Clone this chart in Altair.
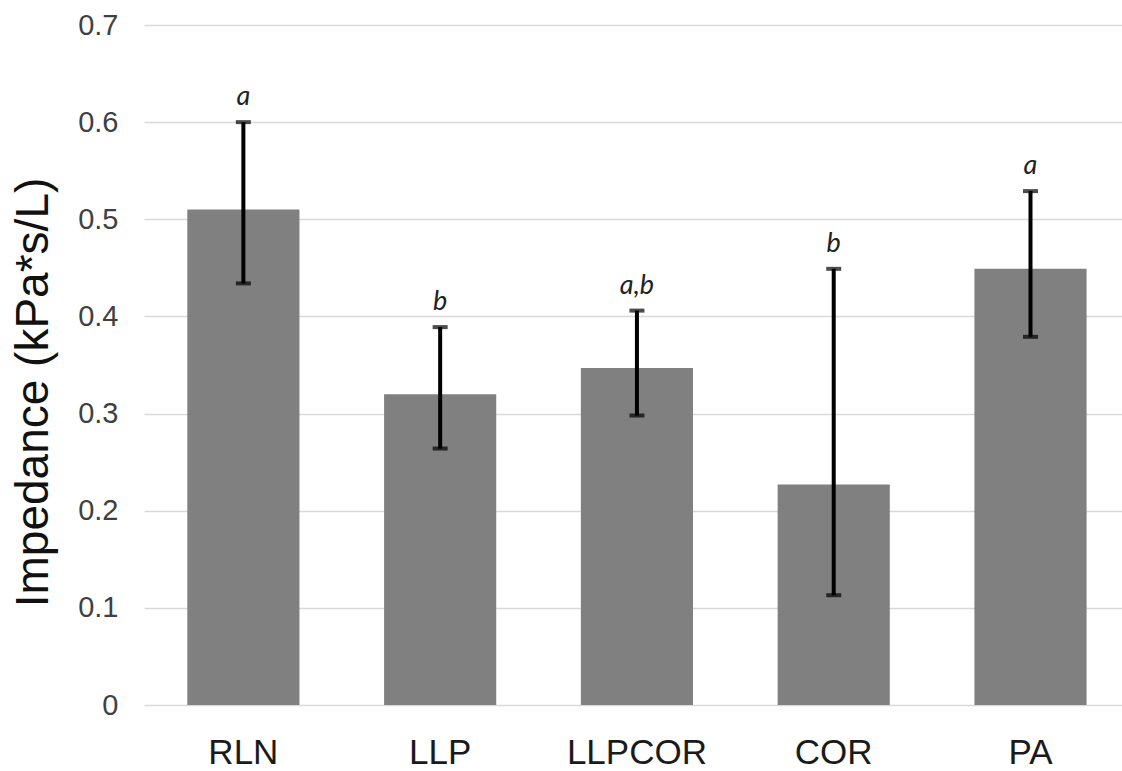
import altair as alt
import pandas as pd

groups = ["RLN", "LLP", "LLPCOR", "COR", "PA"]
means = [0.510, 0.320, 0.347, 0.227, 0.449]
err_low = [0.434, 0.264, 0.298, 0.113, 0.379]
err_high = [0.600, 0.389, 0.406, 0.449, 0.529]
letters = ["a", "b", "a,b", "b", "a"]

df = pd.DataFrame({"group": groups, "mean": means, "lo": err_low, "hi": err_high, "letter": letters})

xenc = alt.X("group:N", sort=groups,
             scale=alt.Scale(paddingInner=0.43, paddingOuter=0.2, align=0.55),
             axis=alt.Axis(title=None, labelAngle=0, labelFont="Liberation Sans", labelFontSize=35,
                           labelColor="#1a1a1a", labelBaseline="alphabetic", labelPadding=58,
                           ticks=False, tickSize=0, domain=False, grid=False))

bars = alt.Chart(df).mark_bar(color="#808080").encode(
    x=xenc,
    y=alt.Y("mean:Q", scale=alt.Scale(domain=[0, 0.7], nice=False),
            axis=alt.Axis(title="Impedance (kPa*s/L)", values=[0, 0.1, 0.2, 0.3, 0.4, 0.5, 0.6, 0.7],
                          format="~g", labelFont="Liberation Sans", labelFontSize=29, labelColor="#404040",
                          labelPadding=26, ticks=False, tickSize=0, domain=False,
                          grid=True, gridColor="#d9d9d9", gridWidth=1.5,
                          titleFont="Liberation Sans", titleFontSize=46, titleFontWeight="normal",
                          titleColor="#111111", titleAngle=-90, titleAlign="center",
                          titleBaseline="alphabetic", titleX=-97, titleY=367)),
)

rules = alt.Chart(df).mark_rule(color="black", strokeWidth=4).encode(
    x=alt.X("group:N", sort=groups), y="lo:Q", y2="hi:Q")

caps_hi = alt.Chart(df).mark_tick(color="black", thickness=4, size=15).encode(
    x=alt.X("group:N", sort=groups), y="hi:Q")
caps_lo = alt.Chart(df).mark_tick(color="black", thickness=4, size=15).encode(
    x=alt.X("group:N", sort=groups), y="lo:Q")

labels = alt.Chart(df).mark_text(font="Lato", fontStyle="italic", fontSize=27, color="#222222",
                                 baseline="alphabetic", dy=-17).encode(
    x=alt.X("group:N", sort=groups), y="hi:Q", text="letter:N")

chart = alt.layer(bars, rules, caps_hi, caps_lo, labels).properties(
    width=978, height=680,
    autosize=alt.AutoSizeParams(type="none"),
    padding={"left": 144, "top": 25, "right": 0, "bottom": 66},
    background="white",
).configure_view(stroke=None)

chart.save("out.html", embed_options={"renderer": "svg", "actions": False})
